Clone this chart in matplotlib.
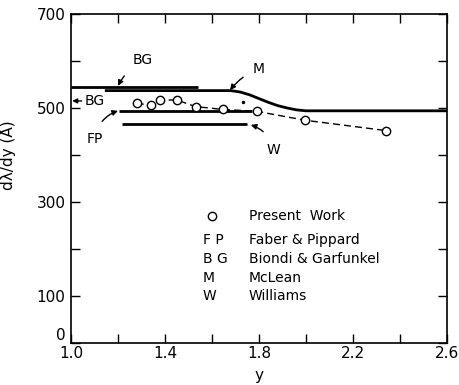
import matplotlib
matplotlib.use("Agg")
import matplotlib.pyplot as plt
from matplotlib.ticker import FixedLocator

# Present work data
pw_x = [1.28, 1.34, 1.38, 1.45, 1.53, 1.645, 1.79, 1.995, 2.34]
pw_y = [510, 506, 517, 517, 503, 497, 493, 474, 452]

# McLean curve (read points)
m_x = [1.15, 1.68, 1.72, 1.76, 1.80, 1.84, 1.88, 1.92, 1.96, 2.00, 2.60]
m_y = [537, 537, 534, 528, 520, 512, 505, 500, 496, 494, 494]

# Biondi & Garfunkel
bg_x = [1.0, 1.54]
bg_y = [545, 545]
bg_axis_value = 515

# Faber & Pippard
fp_x = [1.205, 1.77]
fp_y = [494, 494]

# Williams
w_x = [1.215, 1.75]
w_y = [466, 466]

# stray dot
dot_x = [1.73]
dot_y = [513]

x_ticks = [1.0, 1.4, 1.8, 2.2, 2.6]
x_ticklabels = ["1.0", "1.4", "1.8", "2.2", "2.6"]
y_ticks = [0, 100, 300, 500, 700]
y_ticklabels = ["0", "100", "300", "500", "700"]

legend_keys = ["F P", "B G", "M", "W"]
legend_names = ["Faber & Pippard", "Biondi & Garfunkel", "McLean", "Williams"]

fig = plt.figure(figsize=(4.59, 3.85), dpi=100)
ax = fig.add_axes([71/459, 1-343/385, 376/459, 329/385])

lw = 2.0
ax.plot(bg_x, bg_y, color="black", lw=lw, solid_capstyle="butt")
ax.plot(m_x, m_y, color="black", lw=lw)
ax.plot(fp_x, fp_y, color="black", lw=lw, solid_capstyle="butt")
ax.plot(w_x, w_y, color="black", lw=lw, solid_capstyle="butt")
ax.plot(pw_x, pw_y, color="black", lw=1.0, ls=(0, (5, 3)), marker="o",
        ms=6, mfc="white", mec="black", mew=1.0)
ax.plot(dot_x, dot_y, "k.", ms=3)

ax.set_xlim(1.0, 2.6)
ax.set_ylim(0, 700)
ax.set_xticks(x_ticks)
ax.set_xticklabels(x_ticklabels)
ax.set_yticks(y_ticks)
ax.set_yticklabels(y_ticklabels)
ax.xaxis.set_minor_locator(FixedLocator([1.2, 1.6, 2.0, 2.4]))
ax.yaxis.set_minor_locator(FixedLocator([200, 400, 600]))
ax.tick_params(which="both", direction="in", top=True, right=True,
               length=6.5, width=1.0, labelsize=11, pad=4)
ax.tick_params(axis="x", pad=2)
ax.get_yticklabels()[0].set_verticalalignment("bottom")
for s in ax.spines.values():
    s.set_linewidth(1.2)

ax.set_xlabel("y", fontsize=11)
ax.xaxis.set_label_coords(0.5, -0.075)
ax.set_ylabel("dλ/dy (Å)", fontsize=11)
ax.yaxis.set_label_coords(-0.145, 0.57)

ann_kw = dict(fontsize=10, ha="center", va="center")
ax.annotate("BG", xy=(1.20, 547), xytext=(1.305, 602),
            arrowprops=dict(arrowstyle="-|>", color="black", lw=1.0,
                            connectionstyle="arc3,rad=0.15", shrinkA=6, shrinkB=0,
                            mutation_scale=8), **ann_kw)
ax.annotate("M", xy=(1.677, 538), xytext=(1.80, 583),
            arrowprops=dict(arrowstyle="-|>", color="black", lw=1.0,
                            connectionstyle="arc3,rad=0.15", shrinkA=6, shrinkB=0,
                            mutation_scale=8), **ann_kw)
ax.annotate("BG", xy=(1.005, bg_axis_value), xytext=(1.10, bg_axis_value),
            arrowprops=dict(arrowstyle="-|>", color="black", lw=1.0,
                            shrinkA=8, shrinkB=0, mutation_scale=7), **ann_kw)
ax.annotate("FP", xy=(1.20, 494), xytext=(1.10, 433),
            arrowprops=dict(arrowstyle="-|>", color="black", lw=1.0,
                            connectionstyle="arc3,rad=-0.3", shrinkA=7, shrinkB=0,
                            mutation_scale=8), **ann_kw)
ax.annotate("W", xy=(1.765, 464), xytext=(1.86, 410),
            arrowprops=dict(arrowstyle="-|>", color="black", lw=1.0,
                            connectionstyle="arc3,rad=0.3", shrinkA=8, shrinkB=0,
                            mutation_scale=8), **ann_kw)

# legend block
ax.plot([1.60], [270], marker="o", ms=6, mfc="white", mec="black", mew=1.0)
ax.text(1.757, 270, "Present  Work", fontsize=10, ha="left", va="center")
leg_y = [219, 179, 139, 100]
for k, n, yy in zip(legend_keys, legend_names, leg_y):
    ax.text(1.56, yy, k, fontsize=10, ha="left", va="center")
    ax.text(1.757, yy, n, fontsize=10, ha="left", va="center")

fig.savefig("out.png", dpi=100)
